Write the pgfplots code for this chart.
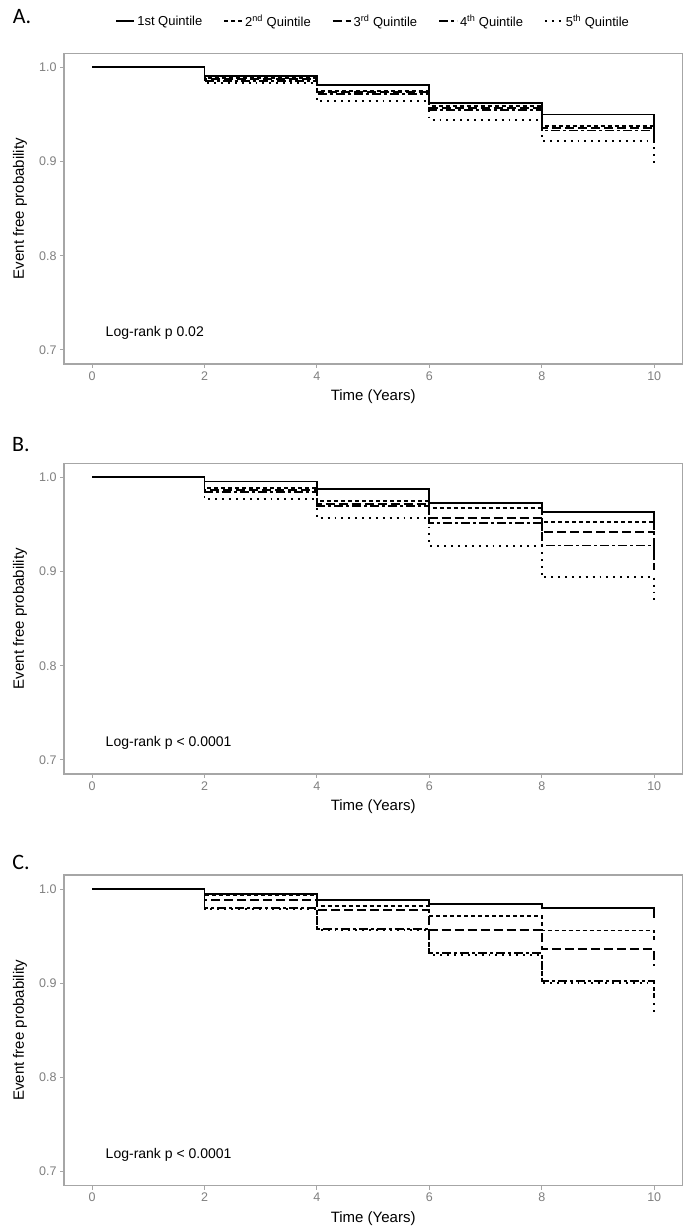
\documentclass[border=0pt]{standalone}
\usepackage{fontspec}
\setmainfont{Liberation Sans}
\newfontfamily\calfont{Carlito}
\usepackage{pgfplots}
\pgfplotsset{compat=1.18}

\definecolor{framegray}{HTML}{A6A6A6}
\definecolor{tickgray}{HTML}{7F7F7F}

\pgfplotsset{
  km/.style={
    scale only axis, width=618.3bp, height=310.7bp, anchor=south west,
    xmin=-0.5, xmax=10.5, ymin=0.685, ymax=1.015,
    xtick={0,2,4,6,8,10}, ytick={0.7,0.8,0.9,1.0},
    xtick pos=lower, ytick pos=left,
    tick align=outside, major tick length=4bp,
    axis line style={framegray, line width=1.3bp},
    tick style={framegray, line width=0.9bp},
    /pgf/number format/assume math mode=true,
    ticklabel style={font=\fontsize{12.5bp}{14bp}\selectfont, text=tickgray},
    yticklabel style={/pgf/number format/.cd, fixed, fixed zerofill, precision=1},
    xlabel={Time (Years)}, ylabel={Event free probability},
    label style={font=\fontsize{15bp}{17bp}\selectfont},
    xlabel style={at={(axis description cs:0.5,-0.1062)}, anchor=center},
    ylabel style={at={(axis description cs:-0.0712,0.5)}, anchor=center},
    const plot,
    every axis plot/.append style={black, line width=1.9bp, mark=none},
  },
  q1/.style={solid},
  q2/.style={dash pattern=on 4bp off 3bp},
  q3/.style={dash pattern=on 9bp off 4bp},
  q4/.style={dash pattern=on 9bp off 3bp on 3bp off 3bp},
  q5/.style={dash pattern=on 1.9bp off 5bp},
}

\begin{document}
\begin{tikzpicture}
\path[use as bounding box] (0bp,0bp) rectangle (685bp,1231bp);

\node[font=\calfont\fontsize{22bp}{24bp}\selectfont] at (22bp,1214bp) {A.};
\node[font=\calfont\fontsize{22bp}{24bp}\selectfont] at (21bp,786bp) {B.};
\node[font=\calfont\fontsize{22bp}{24bp}\selectfont] at (21bp,369bp) {C.};

% Panel A
\begin{axis}[km, at={(64bp,867bp)},
  legend columns=5,
  legend style={draw=none, fill=none, at={(axis description cs:0.5,1.103)}, anchor=center,
    font=\fontsize{13bp}{15bp}\selectfont,
    /tikz/every even column/.append style={column sep=19bp}},
  legend image code/.code={\draw[#1, line width=1.9bp] (0bp,0bp) -- (18bp,0bp);},
]
\addplot[q2, forget plot] coordinates {(0,1) (2,0.989) (4,0.975) (6,0.959) (8,0.938) (10,0.928)};
\addplot[q3, forget plot] coordinates {(0,1) (2,0.988) (4,0.974) (6,0.957) (8,0.936) (10,0.925)};
\addplot[q4, forget plot] coordinates {(0,1) (2,0.986) (4,0.972) (6,0.955) (8,0.933) (10,0.920)};
\addplot[q5, forget plot] coordinates {(0,1) (2,0.983) (4,0.964) (6,0.944) (8,0.922) (10,0.898)};
\addplot[q1] coordinates {(0,1) (2,0.991) (4,0.981) (6,0.962) (8,0.950) (10,0.929)};
\addlegendentry{1st Quintile}
\addlegendimage{q2}
\addlegendentry{2\textsuperscript{nd} Quintile}
\addlegendimage{q3}
\addlegendentry{3\textsuperscript{rd} Quintile}
\addlegendimage{q4}
\addlegendentry{4\textsuperscript{th} Quintile}
\addlegendimage{q5}
\addlegendentry{5\textsuperscript{th} Quintile}
\node[anchor=west, font=\fontsize{14bp}{16bp}\selectfont] at (axis cs:0.18,0.718) {Log-rank p 0.02};
\end{axis}

% Panel B
\begin{axis}[km, at={(64bp,457bp)}]
\addplot[q2] coordinates {(0,1) (2,0.9887) (4,0.9745) (6,0.9675) (8,0.9526) (10,0.935)};
\addplot[q3] coordinates {(0,1) (2,0.987) (4,0.972) (6,0.957) (8,0.9416) (10,0.915)};
\addplot[q4] coordinates {(0,1) (2,0.9845) (4,0.970) (6,0.952) (8,0.9277) (10,0.902)};
\addplot[q5] coordinates {(0,1) (2,0.977) (4,0.957) (6,0.927) (8,0.894) (10,0.866)};
\addplot[q1] coordinates {(0,1) (2,0.9957) (4,0.988) (6,0.9728) (8,0.963) (10,0.944)};
\node[anchor=west, font=\fontsize{14bp}{16bp}\selectfont] at (axis cs:0.18,0.718) {Log-rank p < 0.0001};
\end{axis}

% Panel C
\begin{axis}[km, at={(64bp,45.3bp)}]
\addplot[q2] coordinates {(0,1) (2,0.9933) (4,0.9824) (6,0.9717) (8,0.956) (10,0.945)};
\addplot[q3] coordinates {(0,1) (2,0.9887) (4,0.978) (6,0.957) (8,0.936) (10,0.918)};
\addplot[q4] coordinates {(0,1) (2,0.980) (4,0.958) (6,0.932) (8,0.902) (10,0.885)};
\addplot[q5] coordinates {(0,1) (2,0.979) (4,0.957) (6,0.930) (8,0.900) (10,0.866)};
\addplot[q1] coordinates {(0,1) (2,0.9948) (4,0.9887) (6,0.9845) (8,0.980) (10,0.969)};
\node[anchor=west, font=\fontsize{14bp}{16bp}\selectfont] at (axis cs:0.18,0.718) {Log-rank p < 0.0001};
\end{axis}
\end{tikzpicture}
\end{document}
